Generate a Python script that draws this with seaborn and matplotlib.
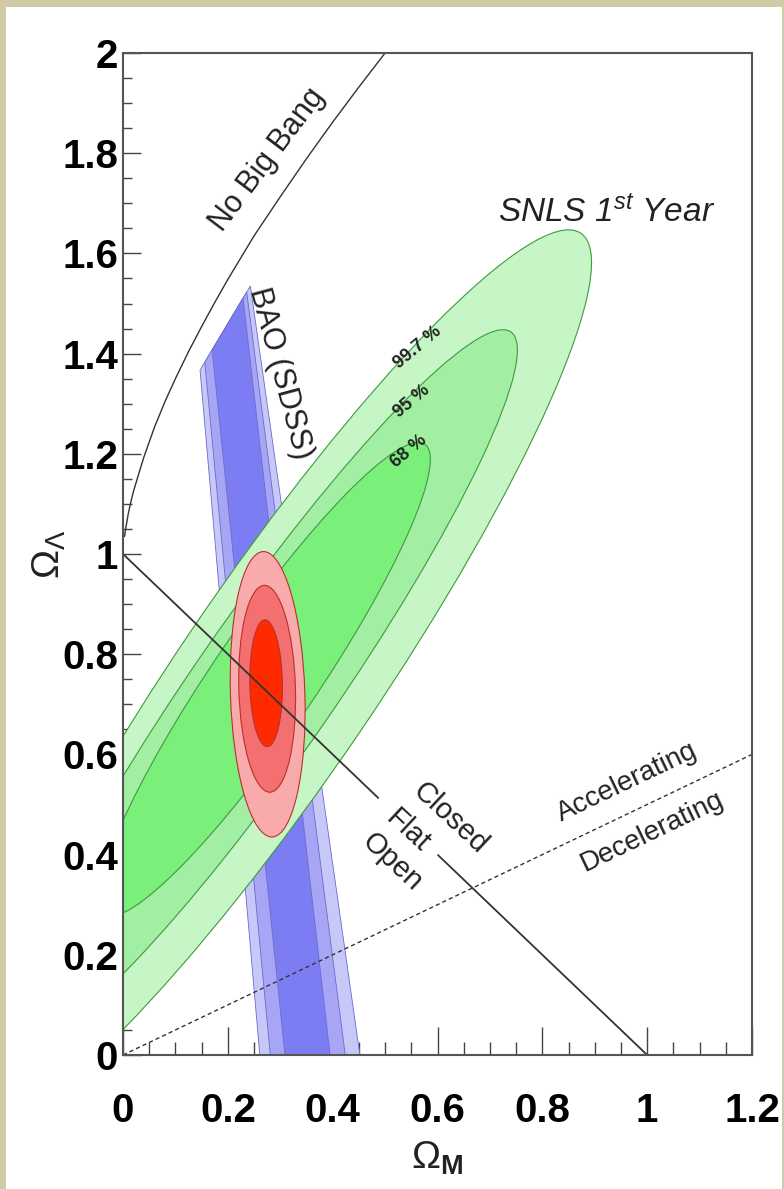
import matplotlib
matplotlib.use('Agg')
import matplotlib.pyplot as plt
from matplotlib.patches import Ellipse, Rectangle
from matplotlib.ticker import MultipleLocator
import seaborn as sns

# --- данные ---
levels = ['99.7 %', '95 %', '68 %']

# SNLS 1st year (эллипсы): центр, полуоси, угол
snls_cx = [0.295, 0.270, 0.270]
snls_cy = [0.752, 0.735, 0.750]
snls_a = [1.06, 0.85, 0.56]
snls_b = [0.19, 0.135, 0.10]
snls_ang = [57.0, 56.5, 57.0]
snls_colors = ['#c6f6c6', '#a2eea2', '#7af07a']

# BAO (SDSS) полосы: края при Omega_L = 0 и верхние углы
bao_bl = [0.261, 0.281, 0.309]
bao_br = [0.452, 0.424, 0.395]
bao_tl_om = [0.147, 0.156, 0.170]
bao_tl_ol = [1.367, 1.383, 1.407]
bao_tr_om = [0.243, 0.236, 0.229]
bao_tr_ol = [1.535, 1.523, 1.511]
bao_colors = ['#c8c8f8', '#a6a6f5', '#7d7df3']

# BAO + SNLS (красные)
comb_cx = [0.276, 0.275, 0.273]
comb_cy = [0.720, 0.731, 0.742]
comb_w = [0.142, 0.108, 0.062]
comb_h = [0.570, 0.413, 0.253]
comb_ang = [1.7, 1.5, 1.0]
comb_colors = ['#f9aaaa', '#f47070', '#ff2a00']

# граница No Big Bang
nbb_om = [0.003, 0.005, 0.01, 0.015, 0.02, 0.03, 0.04, 0.06, 0.08, 0.1, 0.125,
          0.15, 0.175, 0.2, 0.25, 0.3, 0.35, 0.4, 0.45, 0.5]
nbb_ol = [1.035, 1.05, 1.08, 1.104, 1.125, 1.16, 1.194, 1.253, 1.304, 1.35, 1.404,
          1.454, 1.502, 1.548, 1.635, 1.713, 1.789, 1.862, 1.932, 2.0]

# плоская вселенная (с разрывом под подписи)
flat1_om = [0.0, 0.487]
flat1_ol = [1.0, 0.513]
flat2_om = [0.601, 1.0]
flat2_ol = [0.399, 0.0]

# ускорение / замедление
acc_om = [0.0, 1.2]
acc_ol = [0.0, 0.6]

sns.set_theme(style='white')
plt.rcParams['font.family'] = ['Liberation Sans', 'DejaVu Sans']
plt.rcParams['mathtext.fontset'] = 'custom'
plt.rcParams['mathtext.rm'] = 'Liberation Sans'
plt.rcParams['mathtext.it'] = 'Liberation Sans:italic'
plt.rcParams['mathtext.bf'] = 'Liberation Sans:bold'

W, H = 784, 1189
fig = plt.figure(figsize=(W / 100, H / 100), dpi=100)
fig.patch.set_facecolor('#cfcba6')
fig.add_artist(Rectangle((6 / W, 0), (782 - 6) / W, (H - 7) / H,
                         transform=fig.transFigure, facecolor='white',
                         edgecolor='none', zorder=0))

ax = fig.add_axes([123 / W, 1 - 1055 / H, (752 - 123) / W, (1055 - 53) / H])
ax.set_facecolor('white')

# BAO
for i in range(3):
    xs = [bao_bl[i], bao_tl_om[i], bao_tr_om[i], bao_br[i]]
    ys = [0.0, bao_tl_ol[i], bao_tr_ol[i], 0.0]
    ax.fill(xs, ys, facecolor=bao_colors[i], edgecolor='#6a6ad0',
            linewidth=0.6, zorder=1)

# SNLS
for i in range(3):
    ax.add_patch(Ellipse((snls_cx[i], snls_cy[i]), 2 * snls_a[i], 2 * snls_b[i],
                         angle=snls_ang[i], facecolor=snls_colors[i],
                         edgecolor='#3f9a3f', linewidth=0.8, zorder=1.2))

# BAO + SNLS
for i in range(3):
    ax.add_patch(Ellipse((comb_cx[i], comb_cy[i]), comb_w[i], comb_h[i],
                         angle=comb_ang[i], facecolor=comb_colors[i],
                         edgecolor='#b83030', linewidth=0.8, zorder=1.4))

line_kw = dict(ax=ax, color='#333333', sort=False, estimator=None, zorder=2)
sns.lineplot(x=nbb_om, y=nbb_ol, linewidth=1.0, **line_kw)
sns.lineplot(x=flat1_om, y=flat1_ol, linewidth=1.3, **line_kw)
sns.lineplot(x=flat2_om, y=flat2_ol, linewidth=1.3, **line_kw)
sns.lineplot(x=acc_om, y=acc_ol, linewidth=1.0, linestyle=(0, (3, 2.2)), **line_kw)

ax.set_xlim(0, 1.2)
ax.set_ylim(0, 2)
ax.xaxis.set_major_locator(MultipleLocator(0.2))
ax.xaxis.set_minor_locator(MultipleLocator(0.05))
ax.yaxis.set_major_locator(MultipleLocator(0.2))
ax.yaxis.set_minor_locator(MultipleLocator(0.05))
ax.xaxis.set_major_formatter(lambda v, p: f'{v:g}')
ax.yaxis.set_major_formatter(lambda v, p: f'{v:g}')

ax.tick_params(which='both', direction='in', bottom=True, left=True,
               top=False, right=False, color='#444444', width=1.0,
               labelsize=29, labelcolor='black')
ax.tick_params(axis='x', which='major', length=20, pad=27)
ax.tick_params(axis='x', which='minor', length=9.5)
ax.tick_params(axis='y', which='major', length=13, pad=3.5)
ax.tick_params(axis='y', which='minor', length=6.5)
for lab in ax.get_xticklabels() + ax.get_yticklabels():
    lab.set_fontweight('bold')
for sp in ax.spines.values():
    sp.set_color('#555555')
    sp.set_linewidth(1.5)
    sp.set_zorder(3)

ax.set_xlabel(r'$\Omega_{\mathbf{M}}$', fontsize=28, color='#222222')
ax.xaxis.set_label_coords(0.5, -0.085)
ax.set_ylabel(r'$\Omega_{\Lambda}$', fontsize=28, color='#222222')
ax.yaxis.set_label_coords(-0.0874, 0.5)

txt = dict(ha='center', va='center', color='#222222', zorder=4)
ax.text(0.275, 1.786, 'No Big Bang', fontsize=22, rotation=53, **txt)
ax.text(0.30, 1.361, 'BAO (SDSS)', fontsize=22, rotation=-75, **txt)
ax.text(0.922, 1.681, r'SNLS 1$^{st}$ Year', fontsize=24, style='italic', **txt)
ax.text(0.563, 1.413, levels[0], fontsize=13, fontweight='bold', rotation=40, **txt)
ax.text(0.552, 1.305, levels[1], fontsize=13, fontweight='bold', rotation=40, **txt)
ax.text(0.546, 1.204, levels[2], fontsize=13, fontweight='bold', rotation=40, **txt)
ax.text(0.624, 0.473, 'Closed', fontsize=21, rotation=-43, **txt)
ax.text(0.544, 0.447, 'Flat', fontsize=21, rotation=-43, **txt)
ax.text(0.513, 0.385, 'Open', fontsize=21, rotation=-43, **txt)
ax.text(0.962, 0.545, 'Accelerating', fontsize=20, rotation=25.6, **txt)
ax.text(1.010, 0.445, 'Decelerating', fontsize=20, rotation=25.6, **txt)

fig.savefig('out.png', dpi=100)
